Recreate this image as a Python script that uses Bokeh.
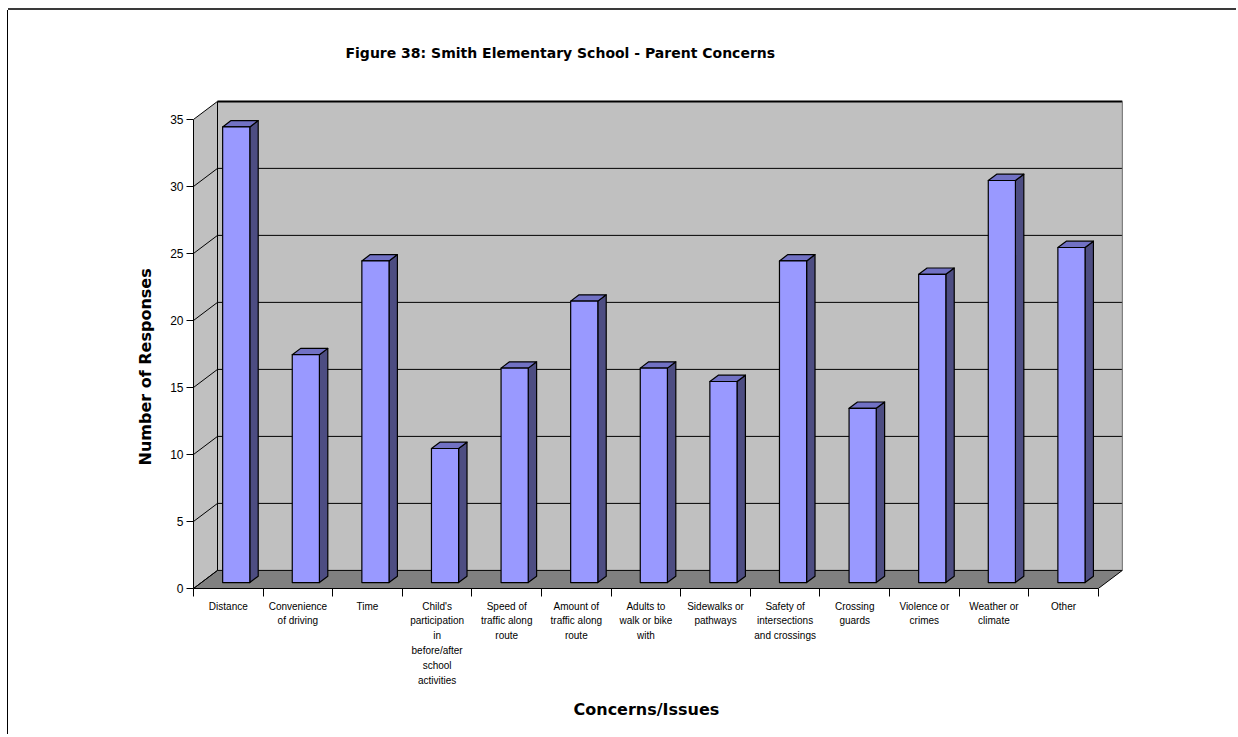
from bokeh.plotting import figure
from bokeh.layouts import column
from bokeh.models import Range1d, FixedTicker, Title
from bokeh.embed import file_html
from bokeh.resources import INLINE

# Parent survey: concerns about walking/biking to school
categories = [
    "Distance",
    "Convenience\nof driving",
    "Time",
    "Child's\nparticipation\nin\nbefore/after\nschool\nactivities",
    "Speed of\ntraffic along\nroute",
    "Amount of\ntraffic along\nroute",
    "Adults to\nwalk or bike\nwith",
    "Sidewalks or\npathways",
    "Safety of\nintersections\nand crossings",
    "Crossing\nguards",
    "Violence or\ncrimes",
    "Weather or\nclimate",
    "Other",
]
responses = [34, 17, 24, 10, 16, 21, 16, 15, 24, 13, 23, 30, 25]
y_ticks = [0, 5, 10, 15, 20, 25, 30, 35]

N = len(categories)
Y_MAX = y_ticks[-1]

# pseudo-3D geometry (data units): back wall shift and bar placement in depth
DX, DY = 0.345, 1.35
BAR_W = 0.39
D0, D1 = 0.33, 0.68

WALL = "#C0C0C0"
FLOOR = "#808080"
BAR_FRONT = "#9999FF"
BAR_TOP = "#7171C4"
BAR_SIDE = "#4D4D82"

p = figure(
    width=1228, height=724,
    x_range=Range1d(0, 13.376), y_range=Range1d(0, 36.49),
    min_border_left=185, min_border_right=112,
    min_border_top=89, min_border_bottom=146,
    output_backend="svg", toolbar_location=None,
)
p.outline_line_color = None
p.grid.visible = False
p.background_fill_color = "white"
p.border_fill_color = "white"

# back wall
p.quad(left=DX, right=N + DX, bottom=DY, top=Y_MAX + DY, fill_color=WALL, line_color=None)
# left side wall
p.patch([0, DX, DX, 0], [0, DY, Y_MAX + DY, Y_MAX], fill_color=WALL, line_color=None)
# floor
p.patch([0, N, N + DX, DX], [0, 0, DY, DY], fill_color=FLOOR, line_color="black", line_width=1)

# gridlines on back wall and side wall
inner = y_ticks[1:-1]
p.segment(x0=[DX] * len(inner), y0=[v + DY for v in inner],
          x1=[N + DX] * len(inner), y1=[v + DY for v in inner],
          line_color="black", line_width=1)
p.segment(x0=[0] * len(y_ticks), y0=y_ticks,
          x1=[DX] * len(y_ticks), y1=[v + DY for v in y_ticks],
          line_color="black", line_width=1)
# wall edges
p.segment(x0=[DX], y0=[Y_MAX + DY], x1=[N + DX], y1=[Y_MAX + DY], line_color="black", line_width=2)
p.segment(x0=[DX], y0=[DY], x1=[DX], y1=[Y_MAX + DY], line_color="black", line_width=1)
p.segment(x0=[N + DX], y0=[DY], x1=[N + DX], y1=[Y_MAX + DY], line_color="#6a6a6a", line_width=1)

# bars: front, top and side faces
ddx = (D1 - D0) * DX
ddy = (D1 - D0) * DY
fx, fy, tx, ty, sx, sy = [], [], [], [], [], []
for i, v in enumerate(responses):
    x0 = i + 0.5 - BAR_W / 2 + D0 * DX
    x1 = x0 + BAR_W
    y0 = D0 * DY
    y1 = v + D0 * DY
    fx.append([x0, x1, x1, x0]); fy.append([y0, y0, y1, y1])
    tx.append([x0, x1, x1 + ddx, x0 + ddx]); ty.append([y1, y1, y1 + ddy, y1 + ddy])
    sx.append([x1, x1 + ddx, x1 + ddx, x1]); sy.append([y0, y0 + ddy, y1 + ddy, y1])
p.patches(sx, sy, fill_color=BAR_SIDE, line_color="black", line_width=1.2, line_join="round")
p.patches(tx, ty, fill_color=BAR_TOP, line_color="black", line_width=1.2, line_join="round")
p.patches(fx, fy, fill_color=BAR_FRONT, line_color="black", line_width=1.2, line_join="round")

# y axis
yax = p.yaxis[0]
yax.ticker = FixedTicker(ticks=y_ticks, minor_ticks=[])
yax.bounds = (0, Y_MAX)
yax.major_tick_out = 7
yax.major_tick_in = 0
yax.major_tick_line_color = "black"
yax.axis_line_color = "black"
yax.major_label_standoff = 3
yax.major_label_text_font = "Liberation Sans"
yax.major_label_text_font_size = "12px"
yax.major_label_text_color = "black"

# x axis: ticks at category boundaries, labels at category centres
xax = p.xaxis[0]
centres = [i + 0.5 for i in range(N)]
xax.ticker = FixedTicker(ticks=centres, minor_ticks=list(range(N + 1)))
xax.bounds = (0, N)
xax.major_tick_line_color = None
xax.major_tick_out = 0
xax.major_tick_in = 0
xax.minor_tick_line_color = "black"
xax.minor_tick_out = 8
xax.minor_tick_in = 0
xax.axis_line_color = "black"
xax.major_label_overrides = {c: lab for c, lab in zip(centres, categories)}
xax.major_label_standoff = 4
xax.major_label_text_font = "Liberation Sans"
xax.major_label_text_font_size = "10px"
xax.major_label_text_line_height = 1.35
xax.major_label_text_color = "black"

# axis titles
p.add_layout(Title(text="Number of Responses", align="left", offset=123, standoff=26,
                   text_font="DejaVu Sans", text_font_style="bold",
                   text_font_size="16px", text_color="black"), "left")
p.add_layout(Title(text="Concerns/Issues", align="left", offset=380, standoff=22,
                   vertical_align="top",
                   text_font="DejaVu Sans", text_font_style="bold",
                   text_font_size="16px", text_color="black"), "below")

# spacer between plot area and the chart title
p.add_layout(Title(text=" ", standoff=26, text_font_size="10px"), "above")

p.title.text = "Figure 38: Smith Elementary School - Parent Concerns"
p.title.align = "left"
p.title.offset = 152
p.title.vertical_align = "bottom"
p.title.standoff = 0
p.title.text_font = "DejaVu Sans"
p.title.text_font_style = "bold"
p.title.text_font_size = "14px"
p.title.text_color = "black"

# page frame: dark rule along the top and left edges
page = column(p, styles={
    "margin-left": "8px", "margin-top": "10px",
    "box-shadow": "0px -2px 0px 0px #3a3a3a, -1px 0px 0px 0px #000000",
})

open("out.html", "w").write(file_html(page, INLINE))
